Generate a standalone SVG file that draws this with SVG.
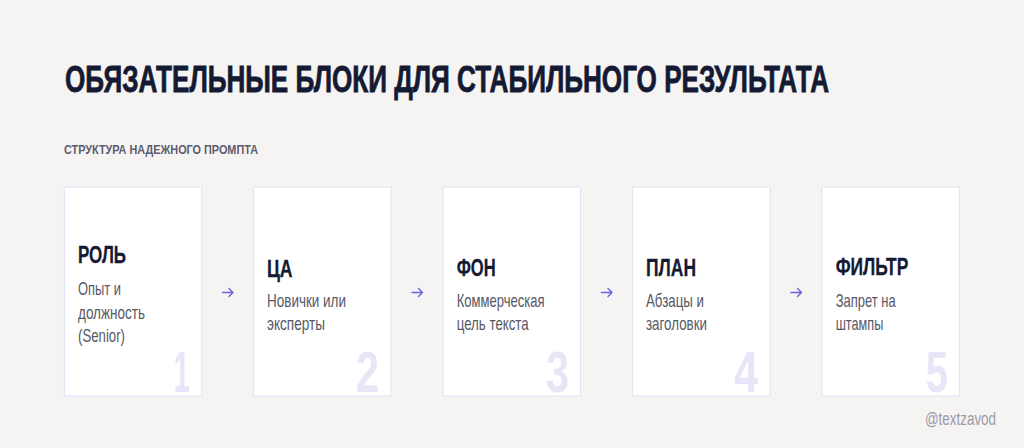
<svg xmlns="http://www.w3.org/2000/svg" width="1024" height="448" viewBox="0 0 1024 448">
<defs>
<style>
.bg{fill:#f5f4f2}
.card{fill:#ffffff;stroke:#e6e5f7;stroke-width:1.2}
.title{font-family:"Liberation Sans",Arial,sans-serif;font-weight:700;font-size:36.5px;fill:#141a33;stroke:#141a33;stroke-width:0.8}
.sub{font-family:"Liberation Sans",Arial,sans-serif;font-weight:700;font-size:13.5px;fill:#5c5c70}
.head{font-family:"Liberation Sans",Arial,sans-serif;font-weight:700;font-size:24.5px;fill:#141a33;stroke:#141a33;stroke-width:0.3}
.desc{font-family:"Liberation Sans",Arial,sans-serif;font-weight:400;font-size:19px;fill:#585866}
.num{font-family:"Liberation Sans",Arial,sans-serif;font-weight:700;font-size:57px;fill:#e7e5f8}
.arrow{fill:none;stroke:#6b62e0;stroke-width:1.4;stroke-linecap:round;stroke-linejoin:round}
.mark{font-family:"Liberation Sans",Arial,sans-serif;font-weight:400;font-size:18px;fill:#9b9aa8}
</style>
</defs>
<rect class="bg" x="0" y="0" width="1024" height="448"/>
<text class="title" x="65" y="92" textLength="764" lengthAdjust="spacingAndGlyphs">ОБЯЗАТЕЛЬНЫЕ БЛОКИ ДЛЯ СТАБИЛЬНОГО РЕЗУЛЬТАТА</text>
<text class="sub" x="64" y="154" textLength="194" lengthAdjust="spacingAndGlyphs">СТРУКТУРА НАДЕЖНОГО ПРОМПТА</text>

<g id="card1">
<rect class="card" x="64.3" y="187" width="137.5" height="209"/>
<text class="num" x="189.5" y="392" text-anchor="end" textLength="16" lengthAdjust="spacingAndGlyphs">1</text>
<text class="head" x="78" y="262.7" textLength="48" lengthAdjust="spacingAndGlyphs">РОЛЬ</text>
<text class="desc" x="78" y="295" textLength="43" lengthAdjust="spacingAndGlyphs">Опыт и</text>
<text class="desc" x="78" y="318.5" textLength="67" lengthAdjust="spacingAndGlyphs">должность</text>
<text class="desc" x="78" y="342" textLength="47" lengthAdjust="spacingAndGlyphs">(Senior)</text>
</g>

<g id="card2">
<rect class="card" x="253.5" y="187" width="137.5" height="209"/>
<text class="num" x="379" y="392" text-anchor="end" textLength="23" lengthAdjust="spacingAndGlyphs">2</text>
<text class="head" x="267" y="276.5" textLength="25.6" lengthAdjust="spacingAndGlyphs">ЦА</text>
<text class="desc" x="267" y="306.5" textLength="79" lengthAdjust="spacingAndGlyphs">Новички или</text>
<text class="desc" x="267" y="330" textLength="58" lengthAdjust="spacingAndGlyphs">эксперты</text>
</g>

<g id="card3">
<rect class="card" x="443" y="187" width="137.5" height="209"/>
<text class="num" x="569" y="392" text-anchor="end" textLength="23" lengthAdjust="spacingAndGlyphs">3</text>
<text class="head" x="456.7" y="276" textLength="39" lengthAdjust="spacingAndGlyphs">ФОН</text>
<text class="desc" x="456.7" y="306.5" textLength="88" lengthAdjust="spacingAndGlyphs">Коммерческая</text>
<text class="desc" x="456.7" y="330" textLength="72" lengthAdjust="spacingAndGlyphs">цель текста</text>
</g>

<g id="card4">
<rect class="card" x="632.5" y="187" width="137.5" height="209"/>
<text class="num" x="758" y="392" text-anchor="end" textLength="24" lengthAdjust="spacingAndGlyphs">4</text>
<text class="head" x="646" y="276" textLength="50" lengthAdjust="spacingAndGlyphs">ПЛАН</text>
<text class="desc" x="646" y="306.5" textLength="58" lengthAdjust="spacingAndGlyphs">Абзацы и</text>
<text class="desc" x="646" y="330" textLength="61" lengthAdjust="spacingAndGlyphs">заголовки</text>
</g>

<g id="card5">
<rect class="card" x="822" y="187" width="137.5" height="209"/>
<text class="num" x="947.7" y="392" text-anchor="end" textLength="22" lengthAdjust="spacingAndGlyphs">5</text>
<text class="head" x="835.7" y="275" textLength="72.6" lengthAdjust="spacingAndGlyphs">ФИЛЬТР</text>
<text class="desc" x="835.7" y="306.5" textLength="60" lengthAdjust="spacingAndGlyphs">Запрет на</text>
<text class="desc" x="835.7" y="330" textLength="47.6" lengthAdjust="spacingAndGlyphs">штампы</text>
</g>

<g id="connectors">
<path class="arrow" d="M222.5 292.5 H233 M229 288.5 L233 292.5 L229 296.5"/>
<path class="arrow" d="M412 292.5 H422.5 M418.5 288.5 L422.5 292.5 L418.5 296.5"/>
<path class="arrow" d="M601.5 292.5 H612 M608 288.5 L612 292.5 L608 296.5"/>
<path class="arrow" d="M791 292.5 H801.5 M797.5 288.5 L801.5 292.5 L797.5 296.5"/>
</g>

<text class="mark" x="925" y="425" textLength="71" lengthAdjust="spacingAndGlyphs">@textzavod</text>
</svg>
